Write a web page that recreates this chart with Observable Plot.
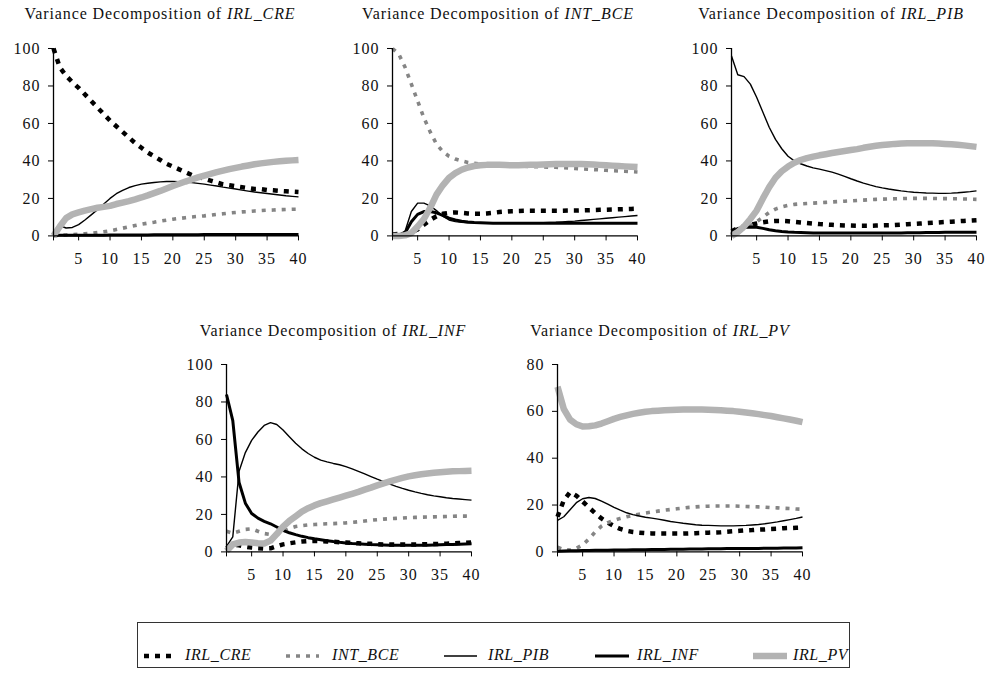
<!DOCTYPE html>
<html><head><meta charset="utf-8">
<script src="https://cdn.jsdelivr.net/npm/d3@7"></script>
<script src="https://cdn.jsdelivr.net/npm/@observablehq/plot@0.6"></script>
<style>
body{margin:0;background:#fff;}
#root{position:relative;width:989px;height:675px;font-family:'Liberation Serif','Times New Roman',Times,'DejaVu Serif',serif;color:#111;overflow:hidden;}
.title{position:absolute;font-size:16px;letter-spacing:0.9px;white-space:nowrap;transform:translateX(-50%);line-height:18px;}
.panel{position:absolute;}
#legend{position:absolute;left:137px;top:622px;width:713px;height:46px;border:1.3px solid #333;box-sizing:border-box;}
.lg{position:absolute;font-size:16px;font-style:italic;letter-spacing:0.6px;line-height:18px;white-space:nowrap;}
.sw{position:absolute;}
</style></head>
<body><div id="root"></div>
<script>
const periods = d3.range(1, 41);
const seriesNames = ["IRL_CRE", "INT_BCE", "IRL_PIB", "IRL_INF", "IRL_PV"];
const xTicks = [1, 5, 10, 15, 20, 25, 30, 35, 40];
const yTicks100 = [0, 20, 40, 60, 80, 100];
const yTicks80 = [0, 20, 40, 60, 80];

// Panel 1: Variance Decomposition of IRL_CRE
const p1_CRE = [100,90,85.5,82,79,75.5,72,68.5,65,61.5,58.5,55.5,52.5,49.5,47,44.5,42.5,40.5,38.5,37,35.5,34,32.5,31.5,30.5,29.5,28.5,27.5,27,26.5,26,25.5,25,25,24.5,24.3,24,23.8,23.6,23.4];
const p1_BCE = [0,0.3,0.5,0.7,0.9,1.1,1.4,1.8,2.2,2.7,3.4,4.1,4.8,5.5,6.2,6.8,7.3,7.9,8.4,8.9,9.3,9.7,10.1,10.4,10.7,11.1,11.5,11.8,12.2,12.5,12.8,13,13.3,13.5,13.7,13.8,14,14.1,14.2,14.2];
const p1_PIB = [0,5.5,4.2,4.5,6,8.5,11.2,14,17,20,22.5,24.3,25.8,26.8,27.6,28.1,28.5,28.8,29,29,28.9,28.7,28.4,28,27.6,27.1,26.6,26,25.5,25,24.4,23.9,23.4,23,22.6,22.2,21.8,21.4,21.1,20.8];
const p1_INF = [0.2,0.3,0.3,0.3,0.4,0.4,0.4,0.4,0.4,0.5,0.5,0.5,0.5,0.5,0.5,0.5,0.6,0.6,0.6,0.6,0.6,0.6,0.6,0.6,0.7,0.7,0.7,0.7,0.7,0.7,0.7,0.7,0.8,0.8,0.8,0.8,0.8,0.8,0.8,0.8];
const p1_PV = [0,5,9.5,11.5,12.5,13.5,14.3,15,15.5,16,17,17.8,18.6,19.5,20.5,21.6,22.8,24,25.3,26.6,27.8,29,30.1,31.2,32.2,33.1,34,34.8,35.6,36.3,37,37.6,38.2,38.7,39.1,39.5,39.8,40.1,40.3,40.5];

// Panel 2: Variance Decomposition of INT_BCE
const p2_CRE = [0.8,1,1.2,2,3.5,6,8.5,10.5,11.8,12.3,12.5,12.3,12,11.8,11.8,12,12.3,12.7,13,13.2,13.3,13.4,13.4,13.4,13.4,13.4,13.4,13.4,13.5,13.5,13.6,13.7,13.8,13.9,14,14.1,14.2,14.3,14.4,14.5];
const p2_BCE = [100,97,90,81,72,63,55.5,49,45,42.5,41,40,39.2,38.7,38.4,38.2,38,37.8,37.6,37.5,37.3,37.2,37,36.9,36.8,36.7,36.6,36.4,36.2,36,35.8,35.6,35.4,35.2,35,34.8,34.6,34.5,34.3,34.1];
const p2_PIB = [0.5,0.7,2.5,13,17.5,17.5,16,13.5,10.5,8.5,7.6,7.2,7,7,7,7,7,7,7,7,7,7,7,7,7.1,7.2,7.3,7.5,7.7,7.9,8.2,8.5,8.8,9.1,9.4,9.7,10,10.3,10.6,10.9];
const p2_INF = [0.3,0.5,1.5,7.5,11.5,13,13,12.3,11,9.5,8.5,7.8,7.4,7.1,7,6.9,6.8,6.8,6.8,6.8,6.8,6.8,6.8,6.8,6.8,6.8,6.8,6.8,6.8,6.8,6.8,6.8,6.8,6.8,6.8,6.8,6.8,6.8,6.8,6.8];
const p2_PV = [0,0,0.3,1.5,5,9,15,22,27,31,33.5,35.3,36.5,37.3,37.7,37.9,38,37.9,37.8,37.7,37.7,37.8,37.9,38,38.1,38.2,38.3,38.4,38.4,38.4,38.3,38.2,38.1,37.9,37.7,37.5,37.3,37.1,36.9,36.7];

// Panel 3: Variance Decomposition of IRL_PIB
const p3_CRE = [2.5,4,5,5.8,6.6,7.3,7.8,8,8,7.8,7.5,7.2,6.9,6.6,6.3,6.1,5.9,5.7,5.6,5.5,5.4,5.4,5.4,5.5,5.6,5.7,5.8,6,6.2,6.4,6.6,6.8,7,7.2,7.4,7.6,7.8,8,8.2,8.4];
const p3_BCE = [0,2,4,5.5,7.5,10,12.5,14.3,15.5,16.3,16.8,17.1,17.3,17.5,17.7,17.9,18.1,18.3,18.5,18.7,18.9,19.1,19.3,19.5,19.6,19.7,19.8,19.9,20,20,20,20,20,19.9,19.9,19.8,19.8,19.7,19.6,19.5];
const p3_PIB = [96,86,85,81,74,66,58,51.5,46.5,42.5,40,38.5,37.3,36.3,35.6,34.8,34,33,31.8,30.5,29.3,28.2,27.2,26.3,25.6,25,24.5,24,23.6,23.3,23.1,22.9,22.8,22.7,22.7,22.8,23,23.3,23.6,24];
const p3_INF = [1,4,4.5,4.8,4.6,4,3.3,2.8,2.4,2.1,1.9,1.8,1.7,1.6,1.6,1.5,1.5,1.5,1.5,1.5,1.5,1.5,1.5,1.5,1.6,1.6,1.6,1.6,1.7,1.7,1.7,1.8,1.8,1.8,1.9,1.9,1.9,2,2,2];
const p3_PV = [0,2,5,9,13.5,20,26,31,34.5,37,39,40.5,41.5,42.3,43,43.6,44.2,44.8,45.3,45.8,46.3,47,47.6,48.1,48.5,48.8,49.1,49.3,49.4,49.5,49.5,49.5,49.4,49.3,49.1,48.9,48.6,48.3,47.9,47.5];

// Panel 4: Variance Decomposition of IRL_INF
const p4_CRE = [2,4,3.5,2.8,2.3,2,1.8,1.9,3,4,4.6,5.1,5.5,5.8,5.9,5.8,5.6,5.4,5.2,5,4.8,4.6,4.4,4.3,4.1,4,3.9,3.9,3.9,3.9,3.9,4,4.1,4.2,4.3,4.4,4.5,4.7,4.8,5];
const p4_BCE = [11,10,11,12,12.3,11,9.8,9.3,9.7,11,12.5,13.5,14,14.4,14.6,14.8,15,15.1,15.3,15.5,15.8,16.1,16.5,16.9,17.2,17.5,17.7,17.9,18.1,18.3,18.4,18.5,18.6,18.7,18.8,18.9,19,19.1,19.1,19.2];
const p4_PIB = [3,8,43,53,59.5,64,67.5,69,68,65,61.5,58,55,52.5,50.5,49,48,47.2,46.5,45.5,44.3,43,41.6,40.2,38.8,37.5,36.2,35,33.9,32.9,32,31.2,30.5,29.9,29.4,28.9,28.5,28.2,27.9,27.6];
const p4_INF = [84,70,37,26,20.5,18,16.3,15,13.3,11.5,10.2,9.2,8.3,7.6,7,6.5,6,5.5,5.1,4.8,4.5,4.3,4.1,3.9,3.8,3.7,3.6,3.5,3.5,3.5,3.5,3.5,3.6,3.7,3.8,3.9,4,4.1,4.2,4.3];
const p4_PV = [0.5,4,5,5.3,5,4.6,4.5,6,9.5,13.5,16.5,19,21.5,23.3,24.8,26,27,28,29,30,31,32,33.2,34.3,35.5,36.6,37.6,38.6,39.5,40.3,40.9,41.4,41.8,42.2,42.5,42.8,43,43.1,43.2,43.3];

// Panel 5: Variance Decomposition of IRL_PV
const p5_CRE = [15,22,25.5,24,21.5,19,16.5,14.3,12.5,11,9.8,9,8.5,8.2,8,7.9,7.8,7.8,7.8,7.8,7.8,7.9,8,8.1,8.2,8.3,8.4,8.6,8.8,9,9.2,9.3,9.5,9.6,9.8,9.9,10.1,10.2,10.3,10.4];
const p5_BCE = [2,1,0.8,1.5,3,5.5,8.5,11,12.5,13.5,14.3,15,15.6,16.1,16.6,17,17.4,17.8,18.1,18.4,18.7,19,19.2,19.4,19.5,19.6,19.6,19.6,19.6,19.5,19.4,19.3,19.2,19.1,18.9,18.8,18.6,18.5,18.3,18.2];
const p5_PIB = [13.5,15,18,21,22.7,23.2,22.8,21.7,20.4,19,17.8,16.7,15.9,15.3,14.8,14.4,14,13.5,13,12.6,12.2,11.9,11.6,11.4,11.3,11.2,11.1,11.1,11.1,11.2,11.3,11.5,11.7,12,12.4,12.8,13.3,13.8,14.3,14.9];
const p5_INF = [0.3,0.4,0.5,0.5,0.6,0.6,0.7,0.7,0.7,0.8,0.8,0.8,0.9,0.9,0.9,1,1,1,1.1,1.1,1.1,1.2,1.2,1.2,1.3,1.3,1.3,1.4,1.4,1.4,1.5,1.5,1.5,1.6,1.6,1.6,1.7,1.7,1.7,1.8];
const p5_PV = [70.5,61,56.5,54.5,53.5,53.6,54,54.8,55.8,56.8,57.6,58.3,58.9,59.4,59.8,60.1,60.3,60.5,60.6,60.7,60.8,60.8,60.8,60.8,60.7,60.6,60.5,60.3,60.1,59.8,59.5,59.2,58.8,58.4,58,57.5,57,56.5,56,55.4];

const panelTitles = ["IRL_CRE", "INT_BCE", "IRL_PIB", "IRL_INF", "IRL_PV"];

const styles = {
  IRL_CRE: {stroke: "#000", strokeWidth: 4.5, strokeDasharray: "5 6"},
  INT_BCE: {stroke: "#858585", strokeWidth: 3.6, strokeDasharray: "4 6"},
  IRL_PIB: {stroke: "#000", strokeWidth: 1.4},
  IRL_INF: {stroke: "#000", strokeWidth: 3},
  IRL_PV: {stroke: "#b3b3b3", strokeWidth: 6.5}
};

const FONT = "'Liberation Serif','Times New Roman',Times,'DejaVu Serif',serif";

const panels = [
  {title: panelTitles[0], series: [p1_CRE, p1_BCE, p1_PIB, p1_INF, p1_PV], yMax: 100, yTicks: yTicks100, axisX: 53, top: 47.7, titleX: 160, titleTop: 5},
  {title: panelTitles[1], series: [p2_CRE, p2_BCE, p2_PIB, p2_INF, p2_PV], yMax: 100, yTicks: yTicks100, axisX: 392, top: 47.7, titleX: 498, titleTop: 5},
  {title: panelTitles[2], series: [p3_CRE, p3_BCE, p3_PIB, p3_INF, p3_PV], yMax: 100, yTicks: yTicks100, axisX: 731, top: 47.7, titleX: 831, titleTop: 5},
  {title: panelTitles[3], series: [p4_CRE, p4_BCE, p4_PIB, p4_INF, p4_PV], yMax: 100, yTicks: yTicks100, axisX: 225.7, top: 364.3, titleX: 333, titleTop: 322},
  {title: panelTitles[4], series: [p5_CRE, p5_BCE, p5_PIB, p5_INF, p5_PV], yMax: 80, yTicks: yTicks80, axisX: 557.3, top: 364.3, titleX: 660, titleTop: 322}
];

const root = document.getElementById("root");
const mL = 50, mR = 12, mT = 12, mB = 36, innerW = 245, innerH = 187.4;

panels.forEach(p => {
  const t = document.createElement("div");
  t.className = "title";
  t.style.left = p.titleX + "px";
  t.style.top = p.titleTop + "px";
  t.innerHTML = "Variance Decomposition of <i>" + p.title + "</i>";
  root.appendChild(t);

  const marks = [];
  seriesNames.forEach((s, k) => {
    const rows = periods.map((d, i) => ({period: d, value: p.series[k][i]}));
    marks.push(Plot.line(rows, {x: "period", y: "value", ...styles[s], strokeLinecap: "butt", strokeLinejoin: "round"}));
  });
  marks.push(Plot.ruleY([0], {stroke: "#000", strokeWidth: 1.3}));
  marks.push(Plot.ruleX([1], {stroke: "#000", strokeWidth: 1.3}));
  marks.push(Plot.axisY({ticks: p.yTicks, tickSize: 5, tickPadding: 8, label: null, tickFormat: d => d, stroke: "#000", fontFamily: FONT}));
  marks.push(Plot.axisX({ticks: xTicks, tickSize: 5, tickPadding: 12, label: null, tickFormat: d => d === 1 ? "" : d, stroke: "#000", fontFamily: FONT}));

  const chart = Plot.plot({
    width: mL + innerW + mR,
    height: mT + innerH + mB,
    marginLeft: mL, marginRight: mR, marginTop: mT, marginBottom: mB,
    x: {domain: [1, 40]},
    y: {domain: [0, p.yMax]},
    style: {fontFamily: FONT, fontSize: "16px", letterSpacing: "1px", color: "#111", background: "transparent", overflow: "visible"},
    marks
  });
  chart.classList.add("panel");
  chart.style.left = (p.axisX - mL) + "px";
  chart.style.top = (p.top - mT) + "px";
  root.appendChild(chart);
});

// Legend
const legend = document.createElement("div");
legend.id = "legend";
root.appendChild(legend);
const legendItems = [
  {name: "IRL_CRE", sx: 144, sw: 29, tx: 185},
  {name: "INT_BCE", sx: 286, sw: 33, tx: 332},
  {name: "IRL_PIB", sx: 444, sw: 33, tx: 488},
  {name: "IRL_INF", sx: 595, sw: 34, tx: 637},
  {name: "IRL_PV", sx: 753, sw: 34, tx: 793}
];
const legendY = 656;
legendItems.forEach(it => {
  const st = styles[it.name];
  const ns = "http://www.w3.org/2000/svg";
  const svg = document.createElementNS(ns, "svg");
  svg.setAttribute("width", it.sw);
  svg.setAttribute("height", 10);
  svg.setAttribute("class", "sw");
  svg.style.left = it.sx + "px";
  svg.style.top = (legendY - 5) + "px";
  const ln = document.createElementNS(ns, "line");
  ln.setAttribute("x1", 0); ln.setAttribute("x2", it.sw);
  ln.setAttribute("y1", 5); ln.setAttribute("y2", 5);
  ln.setAttribute("stroke", st.stroke);
  ln.setAttribute("stroke-width", st.strokeWidth);
  if (st.strokeDasharray) ln.setAttribute("stroke-dasharray", st.strokeDasharray);
  svg.appendChild(ln);
  root.appendChild(svg);
  const tx = document.createElement("div");
  tx.className = "lg";
  tx.style.left = it.tx + "px";
  tx.style.top = (legendY - 10) + "px";
  tx.textContent = it.name;
  root.appendChild(tx);
});
</script>
</body></html>
